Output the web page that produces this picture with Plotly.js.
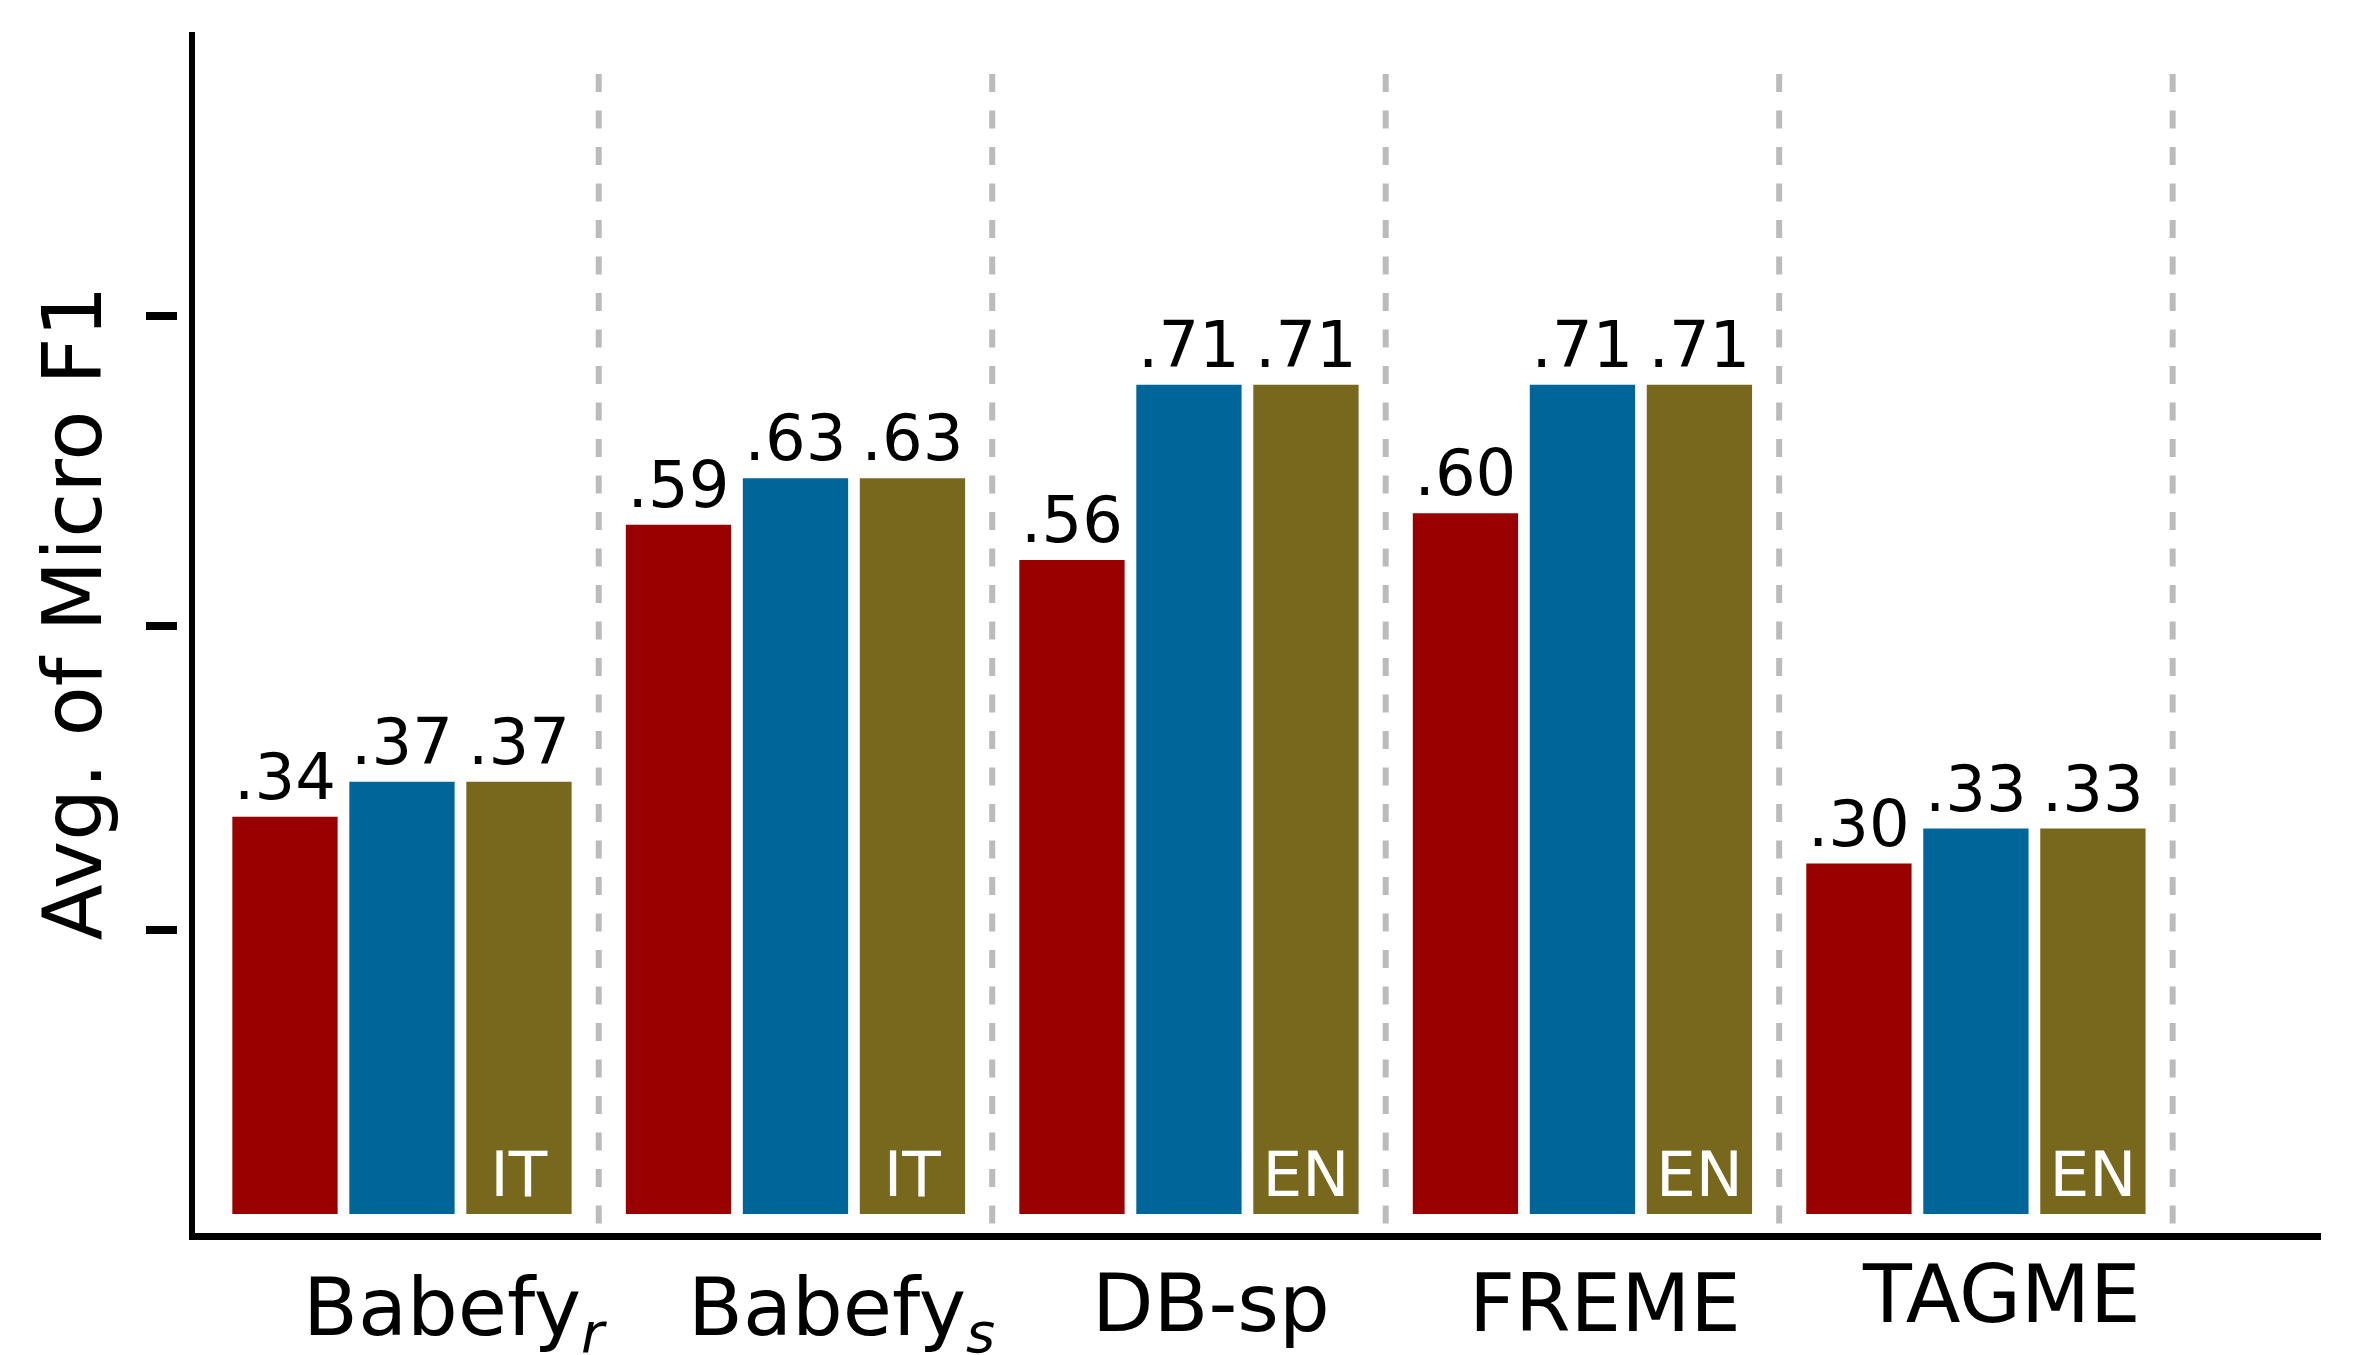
<!DOCTYPE html>
<html><head><meta charset="utf-8">
<script src="https://cdn.plot.ly/plotly-3.0.1.min.js"></script>
<style>html,body{margin:0;padding:0;background:#fff;}</style>
</head><body>
<div id="chart" style="width:2353px;height:1355px;"></div>
<script>
// ---- data ----
const categories = ['Babefy_r', 'Babefy_s', 'DB-sp', 'FREME', 'TAGME'];
const tickLabels = ['Babefy<sub><i>r</i></sub>', 'Babefy<sub><i>s</i></sub>', 'DB-sp', 'FREME', 'TAGME'];
const seriesRed = [0.34, 0.59, 0.56, 0.60, 0.30];
const seriesBlue = [0.37, 0.63, 0.71, 0.71, 0.33];
const seriesOlive = [0.37, 0.63, 0.71, 0.71, 0.33];
const languageLabels = ['IT', 'IT', 'EN', 'EN', 'EN'];
const yTickVals = [0.243, 0.503, 0.769];

// ---- style ----
const FONT = 'DejaVu Sans';
const labelShiftX = [53, 46, 22, 23, 26];     // px offsets of the category labels
const labelShiftY = [-26, -26, -22, -22, -13];
const fmt = v => v.toFixed(2).replace(/^0/, '');
const valueFont = {family: FONT, size: 64, color: '#000'};

function barTrace(y, color, group) {
  return {
    type: 'bar', x: categories, y: y,
    marker: {color: color, line: {width: 0}},
    offsetgroup: group,
    text: y.map(fmt), textposition: 'outside',
    textfont: valueFont, outsidetextfont: valueFont,
    constraintext: 'none', cliponaxis: false,
    hoverinfo: 'skip', showlegend: false
  };
}

const traces = [
  barTrace(seriesRed, '#990000', 'a'),
  barTrace(seriesBlue, '#006699', 'b'),
  barTrace(seriesOlive, '#78681E', 'c'),
  {
    type: 'bar', x: categories, y: seriesOlive,
    marker: {color: 'rgba(0,0,0,0)', line: {width: 0}},
    offsetgroup: 'c',
    text: languageLabels, textposition: 'inside', insidetextanchor: 'start',
    textangle: 0,
    insidetextfont: {family: FONT, size: 63, color: '#ffffff'},
    constraintext: 'none',
    hoverinfo: 'skip', showlegend: false
  },
  // invisible helper trace to activate the tick-only axis
  {type: 'scatter', x: [categories[0]], y: [0], yaxis: 'y2', mode: 'markers',
   marker: {opacity: 0}, hoverinfo: 'skip', showlegend: false}
];

const yRange = [-0.0163, 1.012];
const shapes = categories.map((c, i) => ({
  type: 'line', xref: 'x', yref: 'paper',
  x0: i + 0.5, x1: i + 0.5, y0: 0.965, y1: 0,
  line: {color: '#bbbbbb', width: 6, dash: '18px,18.5px'},
  layer: 'below'
}));

const annotations = categories.map((c, i) => ({
  text: tickLabels[i], xref: 'x', yref: 'paper', x: c, y: 0,
  xanchor: 'center', yanchor: 'top', xshift: labelShiftX[i], yshift: labelShiftY[i],
  showarrow: false, font: {family: FONT, size: 80, color: '#000'}
}));
annotations.push({
  text: 'Avg. of Micro F1', textangle: -90,
  xref: 'paper', yref: 'paper', x: 0, y: 0.5, xanchor: 'center', yanchor: 'middle',
  xshift: -105, yshift: 19, showarrow: false,
  font: {family: FONT, size: 82, color: '#000'}
});

const layout = {
  width: 2353, height: 1355,
  margin: {l: 177, r: 32, t: 32, b: 122, pad: 0},
  paper_bgcolor: '#ffffff', plot_bgcolor: '#ffffff',
  barmode: 'group', bargap: 0.108, bargroupgap: 0.1,
  showlegend: false,
  font: {family: FONT, color: '#000'},
  xaxis: {
    type: 'category', domain: [0.0084, 1], range: [-0.526, 4.877],
    showline: true, linewidth: 7, linecolor: '#000',
    ticks: '', showgrid: false, zeroline: false, showticklabels: false
  },
  yaxis: {
    range: yRange, showline: true, linewidth: 6, linecolor: '#000',
    ticks: '', showticklabels: false, showgrid: false, zeroline: false
  },
  yaxis2: {
    overlaying: 'y', anchor: 'free', position: 0, side: 'left',
    range: yRange, showline: false, linewidth: 1,
    ticks: 'outside', ticklen: 31, tickwidth: 8, tickcolor: '#000',
    tickmode: 'array', tickvals: yTickVals,
    showticklabels: false, showgrid: false, zeroline: false
  },
  shapes: shapes,
  annotations: annotations
};

Plotly.newPlot('chart', traces, layout, {staticPlot: true, displayModeBar: false});
</script>
</body></html>
